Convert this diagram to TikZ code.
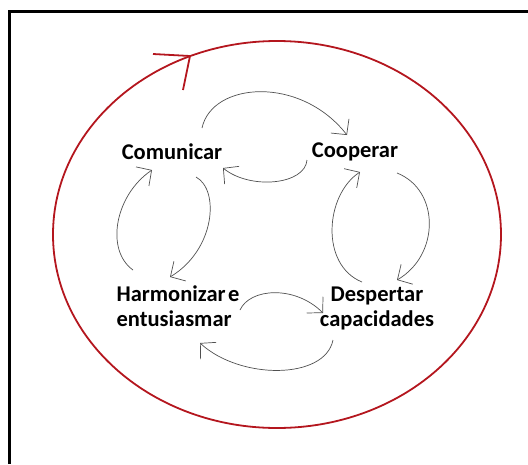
\documentclass[tikz,border=0pt]{standalone}
\usepackage{fontspec}
\setmainfont{Carlito}
\usetikzlibrary{arrows.meta}
\definecolor{cyclered}{RGB}{180,22,30}
\definecolor{arcgray}{RGB}{80,80,80}
\begin{document}
\begin{tikzpicture}[x=1pt,y=-1pt,
  label/.style={font=\fontsize{22.5}{25}\selectfont\bfseries, inner sep=0pt},
  flow/.style={draw=arcgray, line width=0.7pt,
    -{Straight Barb[length=11pt,width=23pt,line width=0.7pt]}},
  outer/.style={draw=cyclered, line width=1.8pt}]
\useasboundingbox (0,0) rectangle (528,464);

% frame
\draw[line width=3pt] (9.5,464) -- (9.5,11.5) -- (528,11.5);

% outer cycle
\draw[outer] (277,234.5) ellipse [x radius=224, y radius=193.5];
\coordinate (tip) at (190,56);
\coordinate (barbA) at (153,54);
\coordinate (barbB) at (183,90);
\draw[outer] (barbA) -- (tip) -- (barbB);

% labels
\node[label] (com) at (172,152) {Comunicar};
\node[label] (coo) at (355,152) {Cooperar};
\node[label, align=left] (har) at (178,306) {Harmonizar\hspace{2.5pt}e\\entusiasmar};
\node[label, align=center] (des) at (377,308) {Despertar\\capacidades};

% end points of the arcs
\coordinate (c1s) at (202,128); \coordinate (c1e) at (347,135);
\coordinate (c2s) at (307,160); \coordinate (c2e) at (223,168);
\coordinate (c3s) at (133,270); \coordinate (c3e) at (152,170);
\coordinate (c4s) at (196,177); \coordinate (c4e) at (170,277);
\coordinate (c5s) at (240,310); \coordinate (c5e) at (323,313);
\coordinate (c6s) at (333,340); \coordinate (c6e) at (200,343);
\coordinate (c7s) at (362,282); \coordinate (c7e) at (360,172);
\coordinate (c8s) at (397,173); \coordinate (c8e) at (397,280);

% arcs between the labels
\draw[flow] (c1s) .. controls (212,82) and (300,75) .. (c1e);
\draw[flow] (c2s) .. controls (305,185) and (250,190) .. (c2e);
\draw[flow] (c3s) .. controls (105,250) and (115,195) .. (c3e);
\draw[flow] (c4s) .. controls (220,190) and (215,250) .. (c4e);
\draw[flow] (c5s) .. controls (250,288) and (295,285) .. (c5e);
\draw[flow] (c6s) .. controls (325,380) and (240,380) .. (c6e);
\draw[flow] (c7s) .. controls (320,265) and (325,195) .. (c7e);
\draw[flow] (c8s) .. controls (440,190) and (440,255) .. (c8e);
\end{tikzpicture}
\end{document}
